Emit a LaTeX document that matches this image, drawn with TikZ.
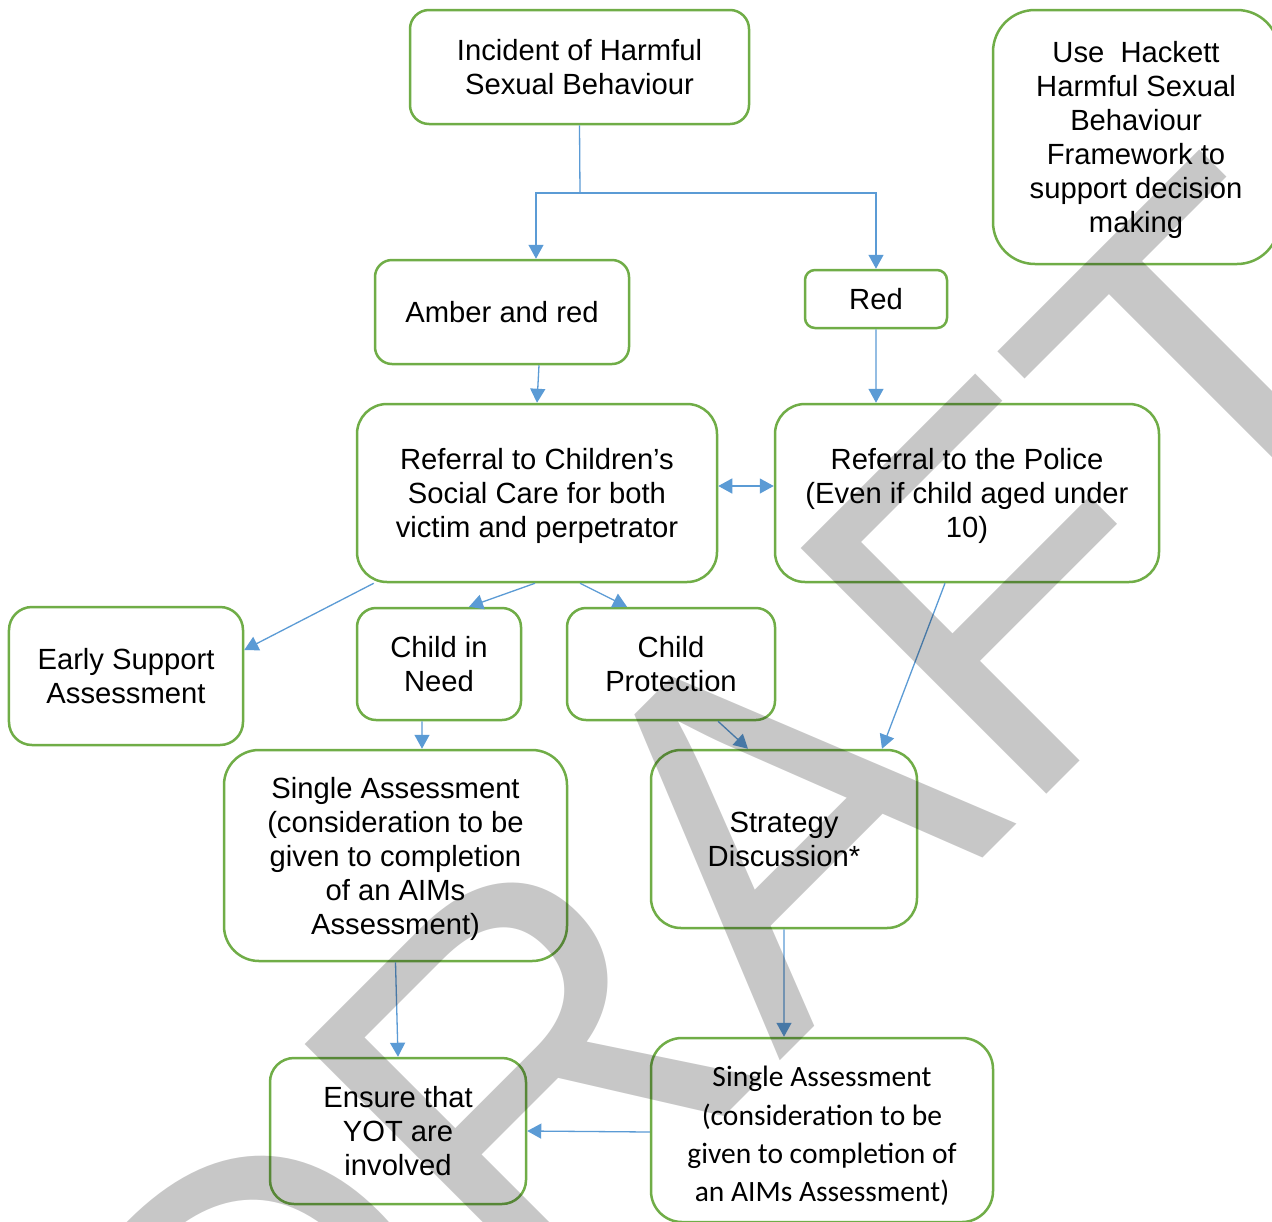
\documentclass[tikz,border=0pt]{standalone}
\usepackage{fontspec}
\setmainfont{Liberation Sans}
\newfontfamily\calfont{Carlito}
\usetikzlibrary{arrows.meta}
\definecolor{boxgreen}{RGB}{112,173,71}
\definecolor{linkblue}{RGB}{91,155,213}
\newcommand\boxfont{\fontsize{29.2bp}{34bp}\selectfont}
\newcommand\calbox{\calfont\fontsize{29.5bp}{38.3bp}\selectfont}
\newcommand\wmfont{\fontsize{505bp}{505bp}\selectfont}
\tikzset{
  box/.style={draw=boxgreen, line width=2.5bp, fill=none, align=center, inner sep=0pt, font=\boxfont,
    text depth=0bp},
  calibribox/.style={box, font=\calbox},
  conn/.style={draw=linkblue, line width=1.3bp},
  arr/.style={conn, -{Triangle[length=14bp,width=15bp]}},
  darr/.style={conn, {Triangle[length=14bp,width=15bp]}-{Triangle[length=14bp,width=15bp]}},
}
\begin{document}
\begin{tikzpicture}[x=1bp,y=-1bp]
\useasboundingbox (0,0) rectangle (1272,1222);
\fill[white] (0,0) rectangle (1272,1222);

\node[box, minimum width=339bp, minimum height=114bp, rounded corners=19bp] (inc) at (579.5,67) {Incident of Harmful\\Sexual Behaviour};
\node[box, minimum width=286bp, minimum height=254bp, rounded corners=42bp] (hack) at (1136,137) {Use\ \ Hackett\\Harmful Sexual\\Behaviour\\Framework to\\support decision\\making};
\node[box, minimum width=254bp, minimum height=104bp, rounded corners=17bp] (amb) at (502,312) {Amber and red};
\node[box, minimum width=142bp, minimum height=58bp, rounded corners=10bp] (red) at (876,299) {Red};
\node[box, minimum width=360bp, minimum height=178bp, rounded corners=30bp] (ref) at (537,493) {Referral to Children’s\\Social Care for both\\victim and perpetrator};
\node[box, minimum width=384bp, minimum height=178bp, rounded corners=30bp] (pol) at (967,493) {Referral to the Police\\(Even if child aged under\\10)};
\node[box, minimum width=234bp, minimum height=138bp, rounded corners=23bp] (early) at (126,676) {Early Support\\Assessment};
\node[box, minimum width=164bp, minimum height=112bp, rounded corners=19bp] (cin) at (439,664) {Child in\\Need};
\node[box, minimum width=208bp, minimum height=112bp, rounded corners=19bp] (cp) at (671,664) {Child\\Protection};
\node[box, minimum width=343bp, minimum height=211bp, rounded corners=35bp] (sal) at (395.5,855.5) {Single Assessment\\(consideration to be\\given to completion\\of an AIMs\\Assessment)};
\node[box, minimum width=266bp, minimum height=178bp, rounded corners=30bp] (str) at (784,839) {Strategy\\Discussion*};
\node[box, minimum width=256bp, minimum height=146bp, rounded corners=24bp] (yot) at (398,1131) {Ensure that\\YOT are\\involved};
\node[calibribox, minimum width=342bp, minimum height=184bp, rounded corners=31bp] (sar) at (822,1130) {\rule{0pt}{28.5bp}Single Assessment\\(consideration to be\\given to completion of\\an AIMs Assessment)};

\coordinate (split) at (580,193);
\draw[conn] (inc.south) -- (split);
\draw[arr] (split) -| ([xshift=34bp]amb.north);
\draw[arr] (split) -| (red.north);
\draw[arr] ([xshift=37bp]amb.south) -- (ref.north);
\draw[arr] (red.south) -- ([xshift=-91bp]pol.north);
\draw[darr] ([yshift=7bp]ref.east) -- ([yshift=7bp]pol.west);
\draw[arr] ([xshift=18bp]ref.south west) -- ([yshift=26bp]early.east);
\draw[arr] ([xshift=-2bp]ref.south) -- ([xshift=30bp]cin.north);
\draw[arr] ([xshift=43bp]ref.south) -- ([xshift=-44bp]cp.north);
\draw[arr] ([xshift=-17bp]cin.south) -- ([xshift=26.5bp]sal.north);
\draw[arr] ([xshift=47bp]cp.south) -- ([xshift=-36bp]str.north);
\draw[arr] ([xshift=-22bp]pol.south) -- ([xshift=98bp]str.north);
\draw[arr] (str.south) -- ([xshift=-38bp]sar.north);
\draw[arr] (sal.south) -- (yot.north);
\draw[arr] ([yshift=-2bp]sar.west) -- (yot.east);

\node[rotate=45, anchor=base, inner sep=0pt, text=black, text opacity=0.22, font=\wmfont] (wm) at (859,982) {DRAFT};
\end{tikzpicture}
\end{document}
